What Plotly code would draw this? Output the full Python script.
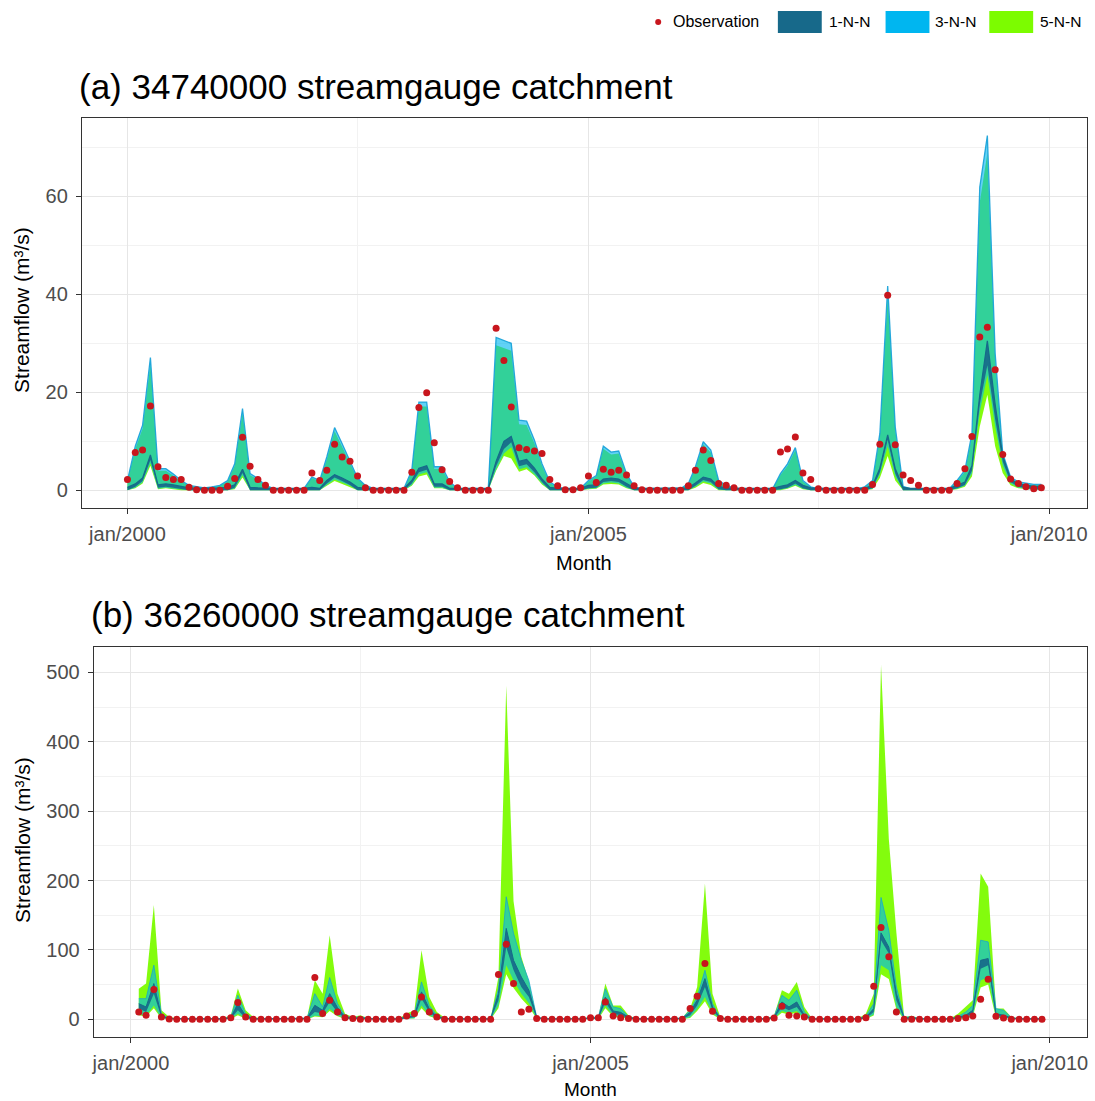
import pandas as pd
import plotly.graph_objects as go

# ---------------- data ----------------
months_a = pd.date_range("2000-01-01", periods=120, freq="MS")
months_b = pd.date_range("2000-02-01", periods=119, freq="MS")

x_tick_vals = ["2000-01-01", "2005-01-01", "2010-01-01"]
x_tick_labels = ["jan/2000", "jan/2005", "jan/2010"]
y_ticks_a = [0, 20, 40, 60]
y_ticks_b = [0, 100, 200, 300, 400, 500]

# Panel (a) 34740000
obs_a = [2.2, 7.7, 8.2, 17.2, 4.8, 2.6, 2.2, 2.2, 0.6, 0.1, 0, 0,
         0, 0.8, 2.4, 10.8, 4.9, 2.2, 1.0, 0, 0, 0, 0, 0,
         3.5, 2.0, 4.1, 9.4, 6.8, 5.9, 2.9, 0.5, 0, 0, 0, 0,
         0, 3.7, 16.9, 19.9, 9.7, 4.2, 1.8, 0.5, 0, 0, 0, 0,
         33.1, 26.5, 17.0, 8.7, 8.3, 8.0, 7.5, 2.2, 0.9, 0.1, 0.1, 0.5,
         2.9, 1.6, 4.3, 3.7, 4.1, 3.1, 0.9, 0.1, 0, 0, 0, 0,
         0, 0.9, 4.1, 8.2, 6.1, 1.4, 1.0, 0.5, 0, 0, 0, 0,
         0, 7.8, 8.4, 10.9, 3.5, 2.2, 0.3, 0, 0, 0, 0, 0,
         0, 1.2, 9.4, 39.8, 9.3, 3.1, 2.0, 1.0, 0, 0, 0, 0,
         1.4, 4.4, 11.0, 31.3, 33.3, 24.6, 7.3, 2.3, 1.4, 0.7, 0.3, 0.5]

nn3_hi_a = [2.0, 9.0, 13.3, 27.1, 4.4, 4.4, 3.3, 2.0, 1.0, 0.7, 0.5, 0.7,
            1.0, 2.0, 5.4, 16.7, 3.4, 2.4, 1.0, 0.4, 0.3, 0.3, 0.3, 0.4,
            2.7, 2.0, 6.8, 12.8, 9.5, 6.0, 2.5, 1.0, 0.4, 0.3, 0.3, 0.3,
            0.4, 4.1, 18.0, 18.0, 4.8, 4.8, 1.7, 0.4, 0.3, 0.3, 0.3, 0.3,
            31.2, 30.6, 30.0, 14.3, 14.1, 10.2, 5.4, 1.7, 0.7, 0.3, 0.3, 0.4,
            2.0, 3.0, 9.0, 7.8, 8.0, 3.4, 0.7, 0.3, 0.3, 0.3, 0.3, 0.3,
            0.3, 1.4, 4.8, 9.9, 8.2, 2.0, 1.0, 0.5, 0.3, 0.3, 0.3, 0.3,
            0.3, 3.4, 5.4, 8.7, 2.0, 0.7, 0.3, 0.3, 0.3, 0.3, 0.3, 0.3,
            0.7, 2.0, 11.6, 41.7, 12.9, 0.8, 0.3, 0.3, 0.3, 0.3, 0.3, 0.3,
            2.0, 4.1, 11.6, 61.9, 72.4, 27.9, 7.5, 2.7, 1.7, 1.4, 1.2, 1.2]
nn3_lo_a = [0.0, 0.5, 1.6, 5.5, 0.3, 0.5, 0.3, 0.1, 0.0, 0.0, 0.0, 0.0,
            0.0, 0.0, 0.3, 3.0, 0.0, 0.0, 0.0, 0.0, 0.0, 0.0, 0.0, 0.0,
            0.0, 0.0, 1.1, 2.2, 1.6, 0.9, 0.0, 0.0, 0.0, 0.0, 0.0, 0.0,
            0.0, 1.1, 3.2, 3.7, 0.5, 0.5, 0.0, 0.0, 0.0, 0.0, 0.0, 0.0,
            4.2, 7.5, 8.8, 4.3, 4.7, 3.2, 1.4, 0.0, 0.0, 0.0, 0.0, 0.0,
            0.3, 0.4, 1.4, 1.6, 1.4, 0.5, 0.0, 0.0, 0.0, 0.0, 0.0, 0.0,
            0.0, 0.0, 0.7, 1.8, 1.4, 0.1, 0.0, 0.0, 0.0, 0.0, 0.0, 0.0,
            0.0, 0.1, 0.4, 1.1, 0.3, 0.0, 0.0, 0.0, 0.0, 0.0, 0.0, 0.0,
            0.0, 0.3, 3.2, 9.0, 2.8, 0.0, 0.0, 0.0, 0.0, 0.0, 0.0, 0.0,
            0.3, 0.9, 3.4, 16.0, 23.5, 13.0, 5.0, 1.4, 0.5, 0.3, 0.1, 0.1]

nn5_hi_a = [1.8, 8.4, 12.6, 25.8, 4.0, 4.0, 3.0, 1.8, 0.9, 0.6, 0.4, 0.6,
            0.9, 1.8, 5.0, 15.8, 3.1, 2.2, 0.9, 0.3, 0.3, 0.3, 0.3, 0.3,
            2.5, 1.8, 6.3, 12.1, 8.9, 5.6, 2.3, 0.9, 0.3, 0.3, 0.3, 0.3,
            0.3, 3.8, 17.1, 17.1, 4.4, 4.4, 1.5, 0.3, 0.3, 0.3, 0.3, 0.3,
            29.6, 29.0, 28.5, 13.5, 13.3, 9.6, 5.0, 1.5, 0.6, 0.3, 0.3, 0.3,
            1.8, 2.8, 8.5, 7.3, 7.5, 3.1, 0.6, 0.3, 0.3, 0.3, 0.3, 0.3,
            0.3, 1.3, 4.5, 9.4, 7.7, 1.8, 0.9, 0.4, 0.3, 0.3, 0.3, 0.3,
            0.3, 3.1, 5.0, 8.2, 1.8, 0.6, 0.3, 0.3, 0.3, 0.3, 0.3, 0.3,
            0.6, 1.8, 11.0, 39.6, 12.2, 0.7, 0.3, 0.3, 0.3, 0.3, 0.3, 0.3,
            1.8, 3.8, 11.0, 58.8, 68.8, 26.5, 7.0, 2.5, 1.5, 1.3, 1.1, 1.1]
nn5_lo_a = [0.0, 0.4, 1.4, 5.0, 0.2, 0.4, 0.2, 0.0, 0.0, 0.0, 0.0, 0.0,
            0.0, 0.0, 0.2, 2.6, 0.0, 0.0, 0.0, 0.0, 0.0, 0.0, 0.0, 0.0,
            0.0, 0.0, 0.9, 1.9, 1.3, 0.7, 0.0, 0.0, 0.0, 0.0, 0.0, 0.0,
            0.0, 0.9, 2.8, 3.2, 0.4, 0.4, 0.0, 0.0, 0.0, 0.0, 0.0, 0.0,
            4.0, 7.0, 6.5, 3.8, 4.3, 3.0, 1.2, 0.0, 0.0, 0.0, 0.0, 0.0,
            0.2, 0.3, 1.2, 1.3, 1.2, 0.4, 0.0, 0.0, 0.0, 0.0, 0.0, 0.0,
            0.0, 0.0, 0.5, 1.5, 1.1, 0.0, 0.0, 0.0, 0.0, 0.0, 0.0, 0.0,
            0.0, 0.0, 0.3, 0.9, 0.2, 0.0, 0.0, 0.0, 0.0, 0.0, 0.0, 0.0,
            0.0, 0.2, 2.5, 7.0, 2.0, 0.0, 0.0, 0.0, 0.0, 0.0, 0.0, 0.0,
            0.2, 0.7, 2.8, 13.0, 19.5, 9.0, 3.5, 1.0, 0.4, 0.2, 0.1, 0.1]

nn1_hi_a = [0.6, 1.3, 2.5, 7.2, 1.1, 1.3, 1.1, 0.8, 0.5, 0.4, 0.4, 0.4,
            0.5, 0.6, 1.1, 4.3, 0.6, 0.5, 0.4, 0.4, 0.4, 0.4, 0.4, 0.4,
            0.6, 0.4, 2.0, 3.2, 2.5, 1.7, 0.6, 0.4, 0.4, 0.4, 0.4, 0.4,
            0.4, 2.0, 4.5, 5.0, 1.3, 1.3, 0.4, 0.4, 0.4, 0.4, 0.4, 0.4,
            5.9, 10.0, 11.0, 5.9, 6.3, 4.5, 2.3, 0.6, 0.4, 0.4, 0.4, 0.4,
            1.0, 1.1, 2.3, 2.5, 2.3, 1.3, 0.5, 0.4, 0.4, 0.4, 0.4, 0.4,
            0.4, 0.5, 1.5, 2.7, 2.3, 0.8, 0.5, 0.4, 0.4, 0.4, 0.4, 0.4,
            0.4, 0.8, 1.1, 2.0, 1.0, 0.5, 0.4, 0.4, 0.4, 0.4, 0.4, 0.4,
            0.4, 1.0, 4.5, 11.3, 4.4, 0.6, 0.4, 0.4, 0.4, 0.4, 0.4, 0.4,
            1.0, 1.7, 5.0, 19.5, 30.5, 17.5, 7.0, 2.3, 1.3, 1.0, 0.8, 0.8]
nn1_lo_a = [0.0, 0.7, 1.9, 6.2, 0.5, 0.7, 0.5, 0.2, 0.0, 0.0, 0.0, 0.0,
            0.0, 0.0, 0.5, 3.5, 0.0, 0.0, 0.0, 0.0, 0.0, 0.0, 0.0, 0.0,
            0.0, 0.0, 1.4, 2.6, 1.9, 1.1, 0.0, 0.0, 0.0, 0.0, 0.0, 0.0,
            0.0, 1.4, 3.7, 4.2, 0.7, 0.7, 0.0, 0.0, 0.0, 0.0, 0.0, 0.0,
            4.9, 8.4, 9.8, 4.9, 5.3, 3.7, 1.7, 0.0, 0.0, 0.0, 0.0, 0.0,
            0.4, 0.5, 1.7, 1.9, 1.7, 0.7, 0.0, 0.0, 0.0, 0.0, 0.0, 0.0,
            0.0, 0.0, 0.9, 2.1, 1.7, 0.2, 0.0, 0.0, 0.0, 0.0, 0.0, 0.0,
            0.0, 0.2, 0.5, 1.4, 0.4, 0.0, 0.0, 0.0, 0.0, 0.0, 0.0, 0.0,
            0.0, 0.4, 3.7, 10.3, 3.4, 0.0, 0.0, 0.0, 0.0, 0.0, 0.0, 0.0,
            0.4, 1.1, 4.0, 17.5, 25.5, 14.5, 5.8, 1.7, 0.7, 0.4, 0.2, 0.2]

# Panel (b) 36260000 (Feb 2000 - Dec 2009)
obs_b = [10.6, 5.8, 42.8, 3.4, 0.5, 0, 0, 0, 0, 0, 0,
         0, 2.4, 24.1, 3.4, 0, 0, 0, 0, 0, 0, 0, 0,
         60.2, 8.2, 27.4, 10.6, 2.4, 1.0, 0, 0, 0, 0, 0, 0,
         4.8, 8.2, 32.2, 10.6, 3.4, 0, 0, 0, 0, 0, 0, 0,
         64.5, 108.3, 51.5, 10.6, 14.4, 1.0, 0, 0, 0, 0, 0, 0,
         2.4, 2.4, 25.0, 4.8, 2.4, 1.0, 0, 0, 0, 0, 0, 0,
         0, 15.4, 33.2, 80.4, 11.5, 1.0, 0, 0, 0, 0, 0, 0,
         2.0, 18.8, 5.8, 4.8, 3.4, 0, 0, 0, 0, 0, 0, 0,
         2.4, 47.6, 132.3, 90.0, 10.6, 0, 0, 0, 0, 0, 0, 0,
         1.0, 2.4, 4.8, 28.9, 57.7, 4.3, 2.0, 0, 0, 0, 0, 0]

nn5_hi_b = [44.0, 51.5, 164.6, 13.0, 3.4, 1.5, 1.0, 1.0, 1.0, 1.0, 1.0,
            1.5, 5.8, 44.3, 13.0, 3.4, 1.0, 1.0, 1.0, 1.0, 1.0, 1.0, 2.4,
            56.3, 37.0, 121.0, 37.0, 8.0, 3.4, 5.8, 1.5, 1.0, 1.0, 1.0, 1.0,
            8.2, 13.0, 99.6, 32.0, 10.6, 2.4, 1.0, 1.0, 1.0, 1.0, 1.0, 1.0,
            61.0, 480.7, 170.0, 90.0, 55.0, 3.4, 1.0, 1.0, 1.0, 1.0, 1.0, 1.0,
            3.4, 3.4, 51.5, 20.0, 20.0, 5.8, 1.0, 1.0, 1.0, 1.0, 1.0, 1.0,
            2.4, 15.4, 46.7, 195.8, 37.0, 3.4, 1.0, 1.0, 1.0, 1.0, 1.0, 1.0,
            5.8, 41.9, 37.0, 53.9, 17.8, 1.0, 1.0, 1.0, 1.0, 1.0, 1.0, 1.0,
            8.2, 37.0, 511.0, 260.0, 125.0, 3.4, 5.0, 1.0, 1.0, 1.0, 1.0, 1.0,
            8.0, 17.8, 27.4, 210.0, 191.0, 15.4, 15.4, 3.4, 1.0, 1.0, 1.0, 1.0]
nn5_lo_b = [6.0, 4.0, 16.0, 1.0, 0.0, 0.0, 0.0, 0.0, 0.0, 0.0, 0.0,
            0.0, 0.3, 6.0, 0.7, 0.0, 0.0, 0.0, 0.0, 0.0, 0.0, 0.0, 0.1,
            4.0, 3.0, 12.0, 4.5, 0.5, 0.1, 0.3, 0.0, 0.0, 0.0, 0.0, 0.0,
            0.5, 1.0, 16.0, 4.5, 0.7, 0.0, 0.0, 0.0, 0.0, 0.0, 0.0, 0.0,
            16.0, 65.0, 45.0, 30.0, 18.0, 0.7, 0.0, 0.0, 0.0, 0.0, 0.0, 0.0,
            0.3, 0.3, 16.0, 4.0, 3.0, 0.5, 0.0, 0.0, 0.0, 0.0, 0.0, 0.0,
            0.1, 2.0, 12.0, 26.0, 7.0, 0.1, 0.0, 0.0, 0.0, 0.0, 0.0, 0.0,
            0.5, 9.5, 7.0, 9.5, 1.5, 0.0, 0.0, 0.0, 0.0, 0.0, 0.0, 0.0,
            0.5, 5.5, 65.0, 58.0, 14.0, 0.1, 0.3, 0.0, 0.0, 0.0, 0.0, 0.0,
            0.5, 1.5, 4.0, 46.0, 50.0, 2.0, 1.5, 0.3, 0.0, 0.0, 0.0, 0.0]

nn3_hi_b = [29.8, 29.8, 78.0, 8.0, 1.0, 0.5, 0.5, 0.5, 0.5, 0.5, 0.5,
            1.0, 3.4, 34.6, 8.0, 1.5, 0.5, 0.5, 0.5, 0.5, 0.5, 0.5, 1.5,
            37.0, 17.8, 60.2, 22.6, 5.0, 2.0, 4.0, 1.0, 0.5, 0.5, 0.5, 0.5,
            5.0, 8.0, 53.9, 20.0, 6.0, 1.5, 0.5, 0.5, 0.5, 0.5, 0.5, 0.5,
            44.0, 176.6, 124.0, 85.0, 56.0, 3.0, 0.5, 0.5, 0.5, 0.5, 0.5, 0.5,
            3.0, 3.0, 44.0, 17.8, 15.4, 4.0, 0.5, 0.5, 0.5, 0.5, 0.5, 0.5,
            2.0, 13.0, 32.0, 70.7, 22.6, 2.0, 0.5, 0.5, 0.5, 0.5, 0.5, 0.5,
            4.0, 34.6, 27.4, 41.9, 10.6, 0.5, 0.5, 0.5, 0.5, 0.5, 0.5, 0.5,
            5.0, 22.6, 175.6, 128.0, 46.7, 2.5, 4.0, 0.5, 0.5, 0.5, 0.5, 0.5,
            4.0, 10.6, 20.0, 114.0, 111.6, 15.4, 13.0, 2.5, 0.5, 0.5, 0.5, 0.5]
nn3_lo_b = [8.0, 5.0, 20.0, 1.5, 0.1, 0.1, 0.1, 0.1, 0.1, 0.1, 0.1,
            0.1, 0.5, 8.0, 1.0, 0.1, 0.1, 0.1, 0.1, 0.1, 0.1, 0.1, 0.2,
            5.0, 4.0, 15.0, 6.0, 0.8, 0.2, 0.5, 0.1, 0.1, 0.1, 0.1, 0.1,
            0.8, 1.5, 20.0, 6.0, 1.0, 0.1, 0.1, 0.1, 0.1, 0.1, 0.1, 0.1,
            20.0, 78.0, 56.0, 37.0, 23.0, 1.0, 0.1, 0.1, 0.1, 0.1, 0.1, 0.1,
            0.5, 0.5, 20.0, 5.0, 4.0, 0.8, 0.1, 0.1, 0.1, 0.1, 0.1, 0.1,
            0.2, 3.0, 15.0, 32.0, 9.0, 0.2, 0.1, 0.1, 0.1, 0.1, 0.1, 0.1,
            0.8, 12.0, 9.0, 12.0, 2.0, 0.1, 0.1, 0.1, 0.1, 0.1, 0.1, 0.1,
            0.8, 7.0, 78.0, 70.7, 17.8, 0.2, 0.5, 0.1, 0.1, 0.1, 0.1, 0.1,
            0.8, 2.0, 5.0, 56.0, 61.0, 3.0, 2.0, 0.5, 0.1, 0.1, 0.1, 0.1]

nn1_hi_b = [22.6, 17.8, 51.5, 5.0, 1.0, 0.8, 0.8, 0.8, 0.8, 0.8, 0.8,
            0.8, 2.5, 22.6, 5.0, 0.8, 0.8, 0.8, 0.8, 0.8, 0.8, 0.8, 1.5,
            20.2, 13.0, 37.0, 17.0, 3.0, 1.5, 2.5, 0.8, 0.8, 0.8, 0.8, 0.8,
            3.0, 5.0, 39.5, 15.0, 4.0, 1.0, 0.8, 0.8, 0.8, 0.8, 0.8, 0.8,
            37.0, 131.0, 85.0, 61.0, 42.0, 3.0, 0.8, 0.8, 0.8, 0.8, 0.8, 0.8,
            2.0, 2.0, 32.0, 12.0, 10.0, 3.0, 0.8, 0.8, 0.8, 0.8, 0.8, 0.8,
            1.5, 10.0, 27.4, 58.7, 17.8, 1.5, 0.8, 0.8, 0.8, 0.8, 0.8, 0.8,
            3.0, 25.0, 17.8, 25.0, 5.8, 0.8, 0.8, 0.8, 0.8, 0.8, 0.8, 0.8,
            3.0, 15.4, 124.6, 104.0, 37.0, 1.5, 2.5, 0.8, 0.8, 0.8, 0.8, 0.8,
            3.0, 5.8, 13.0, 85.0, 87.6, 8.0, 6.0, 2.0, 0.8, 0.8, 0.8, 0.8]
nn1_lo_b = [15.4, 10.6, 37.0, 3.0, 0.3, 0.2, 0.2, 0.2, 0.2, 0.2, 0.2,
            0.2, 1.0, 13.0, 2.0, 0.2, 0.2, 0.2, 0.2, 0.2, 0.2, 0.2, 0.5,
            10.6, 8.2, 25.0, 10.0, 1.5, 0.5, 1.0, 0.2, 0.2, 0.2, 0.2, 0.2,
            1.5, 3.0, 30.0, 10.0, 2.0, 0.3, 0.2, 0.2, 0.2, 0.2, 0.2, 0.2,
            27.4, 104.0, 71.0, 46.6, 32.0, 1.5, 0.2, 0.2, 0.2, 0.2, 0.2, 0.2,
            1.0, 1.0, 25.0, 8.0, 6.0, 1.5, 0.2, 0.2, 0.2, 0.2, 0.2, 0.2,
            0.5, 6.0, 20.0, 46.7, 13.0, 0.5, 0.2, 0.2, 0.2, 0.2, 0.2, 0.2,
            1.5, 17.8, 13.0, 17.8, 3.4, 0.2, 0.2, 0.2, 0.2, 0.2, 0.2, 0.2,
            1.5, 10.6, 114.0, 95.0, 27.4, 0.5, 1.0, 0.2, 0.2, 0.2, 0.2, 0.2,
            1.5, 3.4, 8.2, 73.0, 78.0, 5.0, 3.4, 1.0, 0.2, 0.2, 0.2, 0.2]

# ---------------- style ----------------
FONT = "Liberation Sans, Arial, sans-serif"
C1 = "#17698A"   # 1-N-N
C3 = "#00B6F0"   # 3-N-N
C5 = "#7CFC00"   # 5-N-N
COBS = "#C8161D"
FILL1 = "rgba(23,105,138,0.92)"
FILL3 = "rgba(0,182,240,0.62)"
FILL5 = "rgba(124,252,0,0.95)"
EDGE3 = "rgba(20,160,215,0.9)"

fig = go.Figure()


def add_panel(xa, ya, dates, bands, obs):
    for lo, hi, fill, edge, ew in bands:
        fig.add_trace(go.Scatter(x=dates, y=lo, mode="lines", line=dict(width=0, color=edge),
                                 xaxis=xa, yaxis=ya, showlegend=False, hoverinfo="skip"))
        fig.add_trace(go.Scatter(x=dates, y=hi, mode="lines", fill="tonexty", fillcolor=fill,
                                 line=dict(width=ew, color=edge), xaxis=xa, yaxis=ya,
                                 showlegend=False, hoverinfo="skip"))
    fig.add_trace(go.Scatter(x=dates, y=obs, mode="markers",
                             marker=dict(color=COBS, size=7, line=dict(width=0)),
                             xaxis=xa, yaxis=ya, showlegend=False))


add_panel("x", "y", months_a,
          [(nn5_lo_a, nn5_hi_a, FILL5, C5, 0),
           (nn3_lo_a, nn3_hi_a, FILL3, EDGE3, 1.3),
           (nn1_lo_a, nn1_hi_a, FILL1, C1, 1.2)], obs_a)
add_panel("x2", "y2", months_b,
          [(nn5_lo_b, nn5_hi_b, FILL5, C5, 0),
           (nn3_lo_b, nn3_hi_b, FILL3, EDGE3, 0.8),
           (nn1_lo_b, nn1_hi_b, FILL1, C1, 1.0)], obs_b)

W, H = 1095, 1101


def px(v):
    return v / W


def py(v):
    return 1 - v / H


grid_major = "#E6E6E6"
grid_minor = "#F2F2F2"
TICKFONT = dict(family=FONT, size=20, color="#4D4D4D")

xcommon = dict(type="date", tickvals=x_tick_vals, ticktext=x_tick_labels,
               showgrid=True, gridcolor=grid_major, gridwidth=1.2,
               minor=dict(tickvals=["2002-07-01", "2007-07-01"], showgrid=True,
                          gridcolor=grid_minor, gridwidth=0.7),
               showline=True, mirror=True, linecolor="#333333", linewidth=1,
               ticks="outside", ticklen=5, tickcolor="#333333", tickwidth=1,
               ticklabelstandoff=3,
               tickfont=TICKFONT, zeroline=False)
ycommon = dict(showgrid=True, gridcolor=grid_major, gridwidth=1.2,
               showline=True, mirror=True, linecolor="#333333", linewidth=1,
               ticks="outside", ticklen=5, tickcolor="#333333", tickwidth=1,
               ticklabelstandoff=4,
               tickfont=TICKFONT, zeroline=False)

fig.update_layout(
    width=W, height=H, margin=dict(l=0, r=0, t=0, b=0),
    paper_bgcolor="white", plot_bgcolor="white",
    font=dict(family=FONT),
    showlegend=False,
    xaxis=dict(domain=[px(80), px(1088)], range=["1999-07-04", "2010-05-31"], anchor="y", **xcommon),
    yaxis=dict(domain=[py(508), py(118)], range=[-3.62, 76.0], tickvals=y_ticks_a,
               minor=dict(tickvals=[10, 30, 50, 70], showgrid=True, gridcolor=grid_minor, gridwidth=0.7),
               anchor="x", **ycommon),
    xaxis2=dict(domain=[px(92), px(1088)], range=["1999-08-06", "2010-05-29"], anchor="y2", **xcommon),
    yaxis2=dict(domain=[py(1037), py(647)], range=[-25.5, 536.6], tickvals=y_ticks_b,
                minor=dict(tickvals=[50, 150, 250, 350, 450], showgrid=True, gridcolor=grid_minor, gridwidth=0.7),
                anchor="x2", **ycommon),
)

ann = []
# titles
ann.append(dict(text="(a) 34740000 streamgauge catchment", x=px(75), y=py(87), xref="paper", yref="paper",
                xanchor="left", yanchor="middle", showarrow=False,
                font=dict(family=FONT, size=35, color="black")))
ann.append(dict(text="(b) 36260000 streamgauge catchment", x=px(87), y=py(614), xref="paper", yref="paper",
                xanchor="left", yanchor="middle", showarrow=False,
                font=dict(family=FONT, size=35, color="black")))
# axis titles
for xc, yc, fs in [(584, 563, 20), (590, 1089, 19)]:
    ann.append(dict(text="Month", x=px(xc), y=py(yc), xref="paper", yref="paper",
                    xanchor="center", yanchor="middle", showarrow=False,
                    font=dict(family=FONT, size=fs, color="black")))
for yc in [310, 840]:
    ann.append(dict(text="Streamflow (m³/s)", x=px(20), y=py(yc), xref="paper", yref="paper",
                    xanchor="center", yanchor="middle", showarrow=False, textangle=-90,
                    font=dict(family=FONT, size=21, color="black")))
# legend
legend_items = [("1-N-N", C1, 778, 827), ("3-N-N", C3, 886, 934), ("5-N-N", C5, 990, 1039)]
shapes = []
shapes.append(dict(type="circle", xref="paper", yref="paper", x0=px(655), x1=px(661), y0=py(25), y1=py(19),
                   fillcolor=COBS, line=dict(width=0)))
ann.append(dict(text="Observation", x=px(671), y=py(22), xref="paper", yref="paper", xanchor="left",
                yanchor="middle", showarrow=False, font=dict(family=FONT, size=16, color="black")))
for name, col, bx, tx in legend_items:
    shapes.append(dict(type="rect", xref="paper", yref="paper", x0=px(bx), x1=px(bx + 44), y0=py(33), y1=py(11),
                       fillcolor=col, line=dict(width=0)))
    ann.append(dict(text=name, x=px(tx), y=py(22), xref="paper", yref="paper", xanchor="left",
                    yanchor="middle", showarrow=False, font=dict(family=FONT, size=15.5, color="black")))

fig.update_layout(annotations=ann, shapes=shapes)

fig.write_html("out.html", config={"displayModeBar": False},
               post_script="document.body.style.margin='0px';")
